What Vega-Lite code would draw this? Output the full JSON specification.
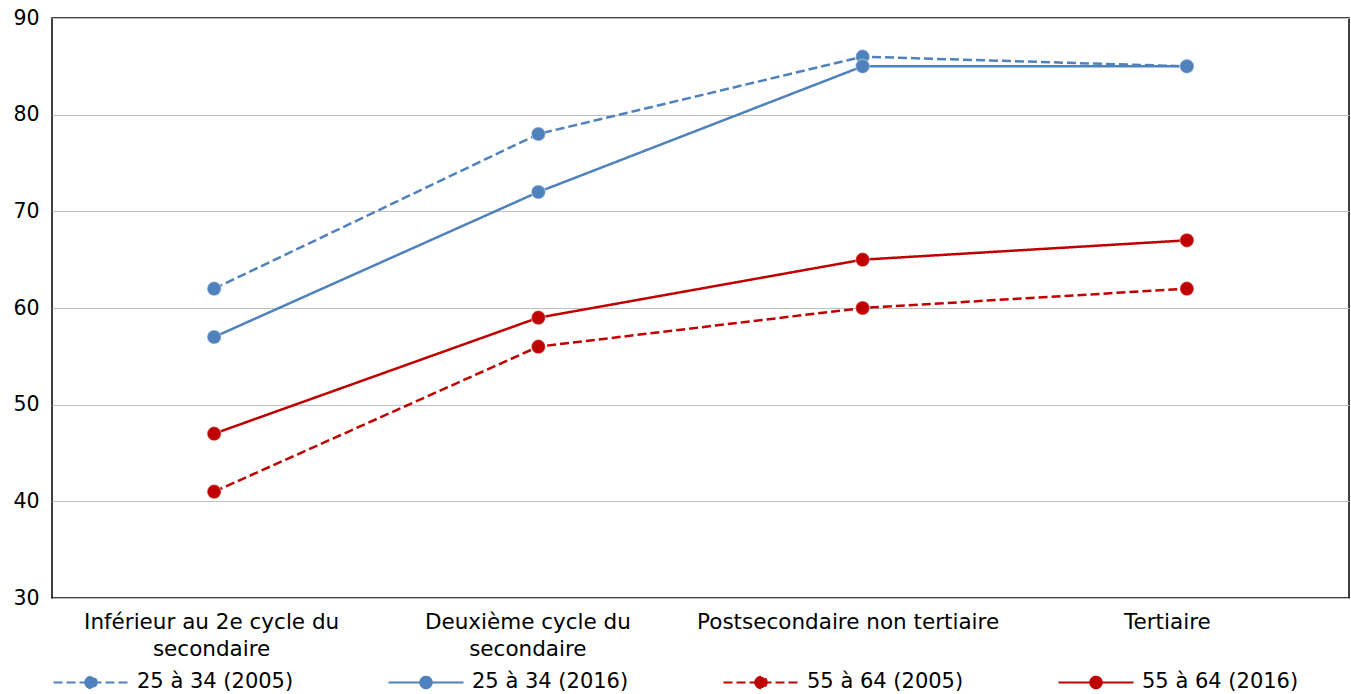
{
  "$schema": "https://vega.github.io/schema/vega-lite/v6.json",
  "width": 1297,
  "height": 580,
  "autosize": "none",
  "padding": {"left": 52, "top": 18, "right": 2, "bottom": 96},
  "background": "white",
  "config": {
    "view": {"stroke": "#000000", "strokeWidth": 1.5},
    "font": "DejaVu Sans"
  },
  "data": {
    "values": [
      {"niveau": "Inférieur au 2e cycle du|secondaire", "ordre": 1, "serie": "25 à 34 (2005)", "taux": 62},
      {"niveau": "Deuxième cycle du|secondaire", "ordre": 2, "serie": "25 à 34 (2005)", "taux": 78},
      {"niveau": "Postsecondaire non tertiaire", "ordre": 3, "serie": "25 à 34 (2005)", "taux": 86},
      {"niveau": "Tertiaire", "ordre": 4, "serie": "25 à 34 (2005)", "taux": 85},
      {"niveau": "Inférieur au 2e cycle du|secondaire", "ordre": 1, "serie": "25 à 34 (2016)", "taux": 57},
      {"niveau": "Deuxième cycle du|secondaire", "ordre": 2, "serie": "25 à 34 (2016)", "taux": 72},
      {"niveau": "Postsecondaire non tertiaire", "ordre": 3, "serie": "25 à 34 (2016)", "taux": 85},
      {"niveau": "Tertiaire", "ordre": 4, "serie": "25 à 34 (2016)", "taux": 85},
      {"niveau": "Inférieur au 2e cycle du|secondaire", "ordre": 1, "serie": "55 à 64 (2005)", "taux": 41},
      {"niveau": "Deuxième cycle du|secondaire", "ordre": 2, "serie": "55 à 64 (2005)", "taux": 56},
      {"niveau": "Postsecondaire non tertiaire", "ordre": 3, "serie": "55 à 64 (2005)", "taux": 60},
      {"niveau": "Tertiaire", "ordre": 4, "serie": "55 à 64 (2005)", "taux": 62},
      {"niveau": "Inférieur au 2e cycle du|secondaire", "ordre": 1, "serie": "55 à 64 (2016)", "taux": 47},
      {"niveau": "Deuxième cycle du|secondaire", "ordre": 2, "serie": "55 à 64 (2016)", "taux": 59},
      {"niveau": "Postsecondaire non tertiaire", "ordre": 3, "serie": "55 à 64 (2016)", "taux": 65},
      {"niveau": "Tertiaire", "ordre": 4, "serie": "55 à 64 (2016)", "taux": 67}
    ]
  },
  "encoding": {
    "x": {
      "field": "niveau",
      "type": "nominal",
      "sort": {"field": "ordre"},
      "scale": {"type": "point", "padding": 0.5},
      "axis": {
        "title": null,
        "labelAngle": 0,
        "labelExpr": "split(datum.label, '|')",
        "labelFont": "DejaVu Sans",
        "labelFontSize": 21.5,
        "labelColor": "#000000",
        "labelPadding": 13,
        "labelLineHeight": 27,
        "labelLimit": 0,
        "labelOffset": {
          "condition": [
            {"test": "datum.value == 'Tertiaire'", "value": -20},
            {"test": "datum.value == 'Postsecondaire non tertiaire'", "value": -15},
            {"test": "datum.value == 'Deuxième cycle du|secondaire'", "value": -11}
          ],
          "value": -3
        },
        "ticks": false,
        "domain": false,
        "grid": false
      }
    },
    "y": {
      "field": "taux",
      "type": "quantitative",
      "scale": {"domain": [30, 90], "nice": false, "zero": false},
      "axis": {
        "title": null,
        "values": [30, 40, 50, 60, 70, 80, 90],
        "labelFont": "DejaVu Sans",
        "labelFontSize": 20.5,
        "labelColor": "#000000",
        "labelPadding": 13,
        "ticks": false,
        "domain": false,
        "grid": true,
        "gridColor": "#c0c0c0",
        "gridWidth": 1.2
      }
    },
    "color": {
      "field": "serie",
      "type": "nominal",
      "scale": {
        "domain": ["25 à 34 (2005)", "25 à 34 (2016)", "55 à 64 (2005)", "55 à 64 (2016)"],
        "range": ["#4f81bd", "#4f81bd", "#c00000", "#c00000"]
      },
      "legend": {
        "title": null,
        "orient": "bottom",
        "direction": "horizontal",
        "columns": 4,
        "offset": -17,
        "columnPadding": 90,
        "labelFont": "DejaVu Sans",
        "labelFontSize": 21,
        "labelColor": "#000000",
        "labelOffset": 7,
        "labelLimit": 0,
        "symbolType": "M-1,0L1,0M-0.15,0A0.15,0.15 0 1,1 0.15,0A0.15,0.15 0 1,1 -0.15,0Z",
        "symbolSize": 5625,
        "symbolStrokeWidth": 2.2,
        "encoding": {
          "symbols": {
            "fill": {"value": {"expr": "scale('color', datum.value)"}}
          }
        }
      }
    }
  },
  "layer": [
    {
      "mark": {"type": "line", "strokeWidth": 2.5},
      "encoding": {
        "strokeDash": {
          "field": "serie",
          "type": "nominal",
          "scale": {
            "domain": ["25 à 34 (2005)", "25 à 34 (2016)", "55 à 64 (2005)", "55 à 64 (2016)"],
            "range": [[9, 4], [1, 0], [9, 4], [1, 0]]
          },
          "legend": {
            "title": null,
            "orient": "bottom",
            "direction": "horizontal",
            "columns": 4,
            "offset": -17,
            "columnPadding": 90,
            "labelFont": "DejaVu Sans",
            "labelFontSize": 21,
            "labelColor": "#000000",
            "labelOffset": 7,
            "labelLimit": 0,
            "symbolType": "M-1,0L1,0M-0.15,0A0.15,0.15 0 1,1 0.15,0A0.15,0.15 0 1,1 -0.15,0Z",
            "symbolSize": 5625,
            "symbolStrokeWidth": 2.2
          }
        }
      }
    },
    {
      "mark": {"type": "point", "filled": true, "opacity": 1, "size": 200, "strokeWidth": 1.5, "stroke": "#ffffff", "strokeOpacity": 0.35}
    }
  ]
}
